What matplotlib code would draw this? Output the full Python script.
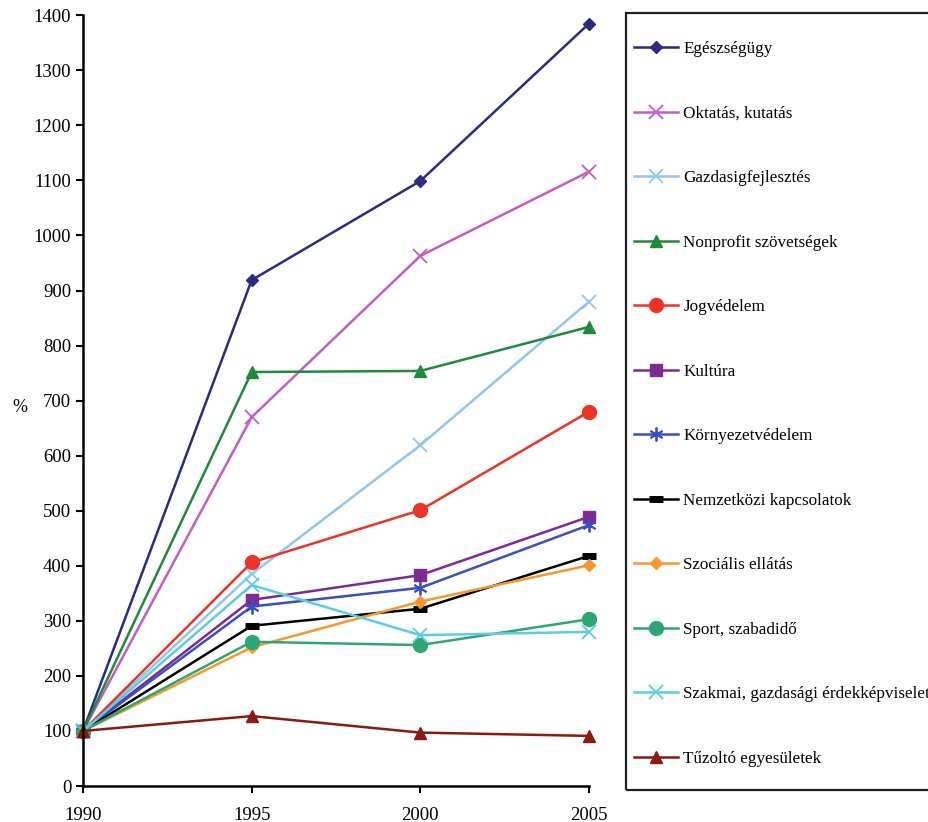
import matplotlib
matplotlib.use('Agg')
import matplotlib.pyplot as plt
from matplotlib.patches import Rectangle

plt.rcParams['font.family'] = ['Liberation Serif', 'DejaVu Serif']

# years and index values (1990 = 100)
years = [1990, 1995, 2000, 2005]

egeszsegugy = [100, 919, 1099, 1385]
oktatas = [100, 670, 963, 1116]
gazdasag = [100, 385, 619, 880]
nonprofit = [100, 752, 754, 834]
jogvedelem = [100, 406, 501, 680]
kultura = [100, 338, 383, 489]
kornyezet = [100, 326, 360, 474]
nemzetkozi = [100, 291, 322, 418]
szocialis = [100, 252, 335, 401]
sport = [100, 262, 256, 303]
szakmai = [100, 365, 274, 280]
tuzolto = [100, 127, 97, 91]

series = [
    ('Egészségügy', egeszsegugy, '#2b2b80', 'D', 6, 1.0),
    ('Oktatás, kutatás', oktatas, '#c35fc0', 'x', 10, 1.3),
    ('Gazdasigfejlesztés', gazdasag, '#92c6ee', 'x', 10, 1.3),
    ('Nonprofit szövetségek', nonprofit, '#1f8a3c', '^', 9, 1.0),
    ('Jogvédelem', jogvedelem, '#ee3326', 'o', 10, 1.0),
    ('Kultúra', kultura, '#7d2b93', 's', 9, 1.0),
    ('Környezetvédelem', kornyezet, '#3a4fc0', (6, 2, 0), 10, 1.3),
    ('Nemzetközi kapcsolatok', nemzetkozi, '#000000', '_', 10, 5),
    ('Szociális ellátás', szocialis, '#f7982c', 'D', 6, 1.0),
    ('Sport, szabadidő', sport, '#2ba674', 'o', 10, 1.0),
    ('Szakmai, gazdasági érdekképviselet', szakmai, '#5ccde2', 'x', 10, 1.3),
    ('Tűzoltó egyesületek', tuzolto, '#8a1a12', '^', 9, 1.0),
]

fig = plt.figure(figsize=(9.29, 8.22), dpi=100)
ax = fig.add_axes([83 / 929, 1 - 786 / 822, (589 - 83) / 929, (786 - 15.3) / 822])

for name, vals, color, marker, ms, mew in series:
    ax.plot(years, vals, color=color, marker=marker, markersize=ms,
            markeredgewidth=mew, markeredgecolor=color, markerfacecolor=color,
            linewidth=1.8, label=name, clip_on=False)

ax.set_xlim(1990, 2005)
ax.set_ylim(0, 1400)
ax.set_xticks(years)
ax.set_yticks(range(0, 1401, 100))
ax.tick_params(labelsize=13.5, width=1.5, length=5, direction='out')
ax.tick_params(axis='x', pad=10)
for s in ['top', 'right']:
    ax.spines[s].set_visible(False)
for s in ['left', 'bottom']:
    ax.spines[s].set_linewidth(1.8)

fig.text(20 / 929, 1 - 407 / 822, '%', fontsize=13, ha='center', va='center')

# legend box, running off the right edge as in the original
fig.patches.append(Rectangle((626 / 929, 1 - 790 / 822), 400 / 929, 777 / 822,
                             transform=fig.transFigure, fill=False,
                             edgecolor='#222222', linewidth=1.6))
fig.legend(loc='upper left', bbox_to_anchor=(634 / 929, 1 - 41 / 822),
           frameon=False, fontsize=12.3, borderpad=0, borderaxespad=0,
           labelspacing=2.84, handlelength=2.58, handletextpad=0.3)

plt.savefig('out.png', dpi=100)
